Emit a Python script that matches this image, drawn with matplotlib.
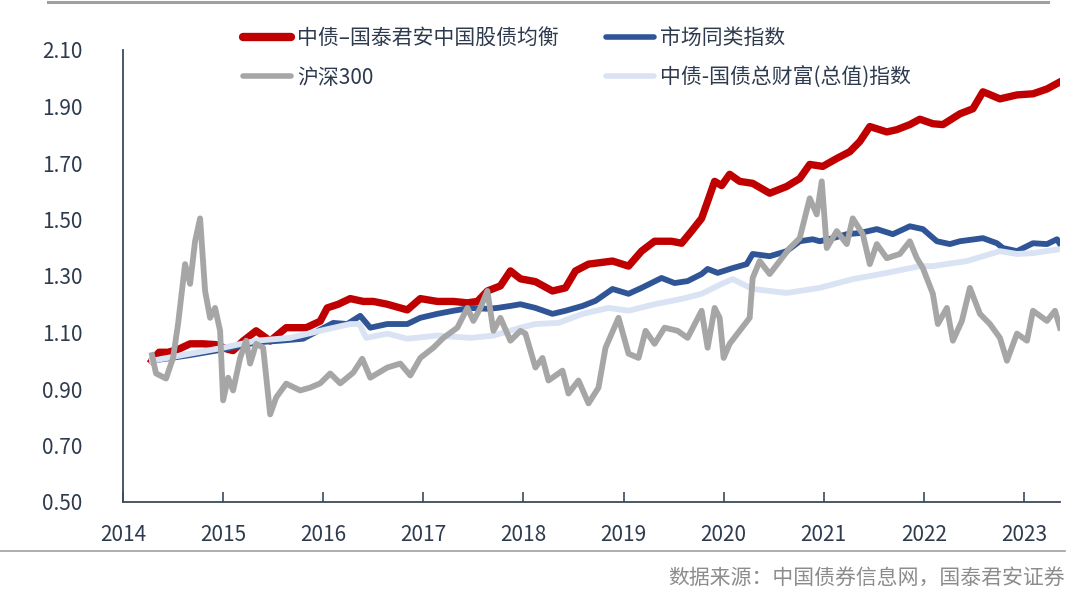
import matplotlib
matplotlib.use("Agg")
import matplotlib.pyplot as plt
from matplotlib.lines import Line2D

plt.rcParams['font.family'] = ['Noto Sans CJK SC', 'DejaVu Sans']

# ---- data (year as decimal, index value) ----
balanced_x = [2014.29, 2014.36, 2014.45, 2014.55, 2014.67, 2014.8, 2014.93, 2015.05, 2015.1, 2015.2,
              2015.33, 2015.47, 2015.63, 2015.83, 2015.97, 2016.04, 2016.15, 2016.27, 2016.4, 2016.5,
              2016.64, 2016.84, 2016.97, 2017.14, 2017.3, 2017.44, 2017.54, 2017.64, 2017.77, 2017.87,
              2017.97, 2018.12, 2018.29, 2018.42, 2018.52, 2018.65, 2018.89, 2019.05, 2019.18, 2019.31,
              2019.48, 2019.58, 2019.68, 2019.78, 2019.84, 2019.91, 2019.98, 2020.06, 2020.16, 2020.29,
              2020.46, 2020.63, 2020.76, 2020.86, 2020.99, 2021.13, 2021.26, 2021.36, 2021.46, 2021.63,
              2021.73, 2021.86, 2021.96, 2022.09, 2022.19, 2022.36, 2022.49, 2022.59, 2022.64, 2022.76,
              2022.93, 2023.09, 2023.23, 2023.36]
balanced_y = [1.00, 1.03, 1.03, 1.04, 1.06, 1.06, 1.057, 1.04, 1.036, 1.07,
              1.106, 1.07, 1.117, 1.117, 1.14, 1.187, 1.20, 1.22, 1.21, 1.21,
              1.20, 1.18, 1.22, 1.21, 1.21, 1.205, 1.21, 1.247, 1.265, 1.318,
              1.29, 1.28, 1.247, 1.258, 1.318, 1.342, 1.353, 1.335, 1.388, 1.423,
              1.423, 1.416, 1.459, 1.504, 1.564, 1.635, 1.62, 1.66, 1.635, 1.628,
              1.593, 1.617, 1.645, 1.695, 1.688, 1.716, 1.74, 1.776, 1.829, 1.81,
              1.818, 1.836, 1.855, 1.839, 1.836, 1.874, 1.892, 1.952, 1.945, 1.927,
              1.941, 1.945, 1.962, 1.987]

peer_x = [2014.29, 2014.67, 2015.0, 2015.33, 2015.57, 2015.8, 2015.97, 2016.1, 2016.24, 2016.37,
          2016.47, 2016.64, 2016.84, 2016.97, 2017.14, 2017.3, 2017.47, 2017.64, 2017.74, 2017.87,
          2017.97, 2018.12, 2018.29, 2018.42, 2018.59, 2018.72, 2018.89, 2019.05, 2019.18, 2019.38,
          2019.51, 2019.64, 2019.78, 2019.84, 2019.94, 2020.09, 2020.23, 2020.29, 2020.46, 2020.63,
          2020.76, 2020.89, 2020.96, 2021.09, 2021.23, 2021.36, 2021.53, 2021.69, 2021.86, 2021.99,
          2022.13, 2022.26, 2022.36, 2022.59, 2022.73, 2022.79, 2022.93, 2023.09, 2023.23, 2023.33,
          2023.36]
peer_y = [1.00, 1.02, 1.04, 1.065, 1.071, 1.078, 1.11, 1.134, 1.13, 1.159,
          1.117, 1.13, 1.13, 1.152, 1.166, 1.177, 1.187, 1.184, 1.187, 1.194,
          1.20, 1.187, 1.166, 1.177, 1.194, 1.212, 1.254, 1.237, 1.258, 1.293,
          1.275, 1.282, 1.307, 1.325, 1.311, 1.328, 1.342, 1.378, 1.37, 1.388,
          1.423, 1.43, 1.423, 1.434, 1.448, 1.452, 1.466, 1.448, 1.476, 1.466,
          1.423, 1.413, 1.423, 1.434, 1.416, 1.399, 1.388, 1.416, 1.413, 1.43,
          1.413]

bond_x = [2014.29, 2014.67, 2015.0, 2015.33, 2015.67, 2015.97, 2016.27, 2016.36, 2016.43, 2016.64,
          2016.84, 2017.14, 2017.47, 2017.7, 2017.97, 2018.12, 2018.35, 2018.59, 2018.85, 2019.05,
          2019.31, 2019.58, 2019.78, 2019.98, 2020.09, 2020.29, 2020.63, 2020.96, 2021.29, 2021.63,
          2021.96, 2022.09, 2022.43, 2022.76, 2022.93, 2023.09, 2023.36]
bond_y = [1.00, 1.025, 1.046, 1.071, 1.081, 1.106, 1.13, 1.13, 1.081, 1.096,
          1.078, 1.089, 1.081, 1.089, 1.117, 1.13, 1.134, 1.166, 1.187, 1.177,
          1.20, 1.219, 1.237, 1.272, 1.289, 1.254, 1.24, 1.258, 1.289, 1.311,
          1.335, 1.335, 1.353, 1.388, 1.378, 1.381, 1.395]

csi_x = [2014.29, 2014.33, 2014.43, 2014.5, 2014.55, 2014.62, 2014.67, 2014.72, 2014.77, 2014.82,
         2014.87, 2014.92, 2014.97, 2015.0, 2015.05, 2015.1, 2015.17, 2015.23, 2015.27, 2015.33,
         2015.4, 2015.47, 2015.53, 2015.63, 2015.77, 2015.87, 2015.97, 2016.07, 2016.17, 2016.3,
         2016.39, 2016.47, 2016.64, 2016.77, 2016.87, 2016.97, 2017.1, 2017.2, 2017.34, 2017.44,
         2017.5, 2017.57, 2017.64, 2017.7, 2017.77, 2017.87, 2017.97, 2018.02, 2018.12, 2018.19,
         2018.25, 2018.39, 2018.45, 2018.55, 2018.65, 2018.75, 2018.82, 2018.95, 2019.05, 2019.15,
         2019.22, 2019.31, 2019.41, 2019.54, 2019.64, 2019.78, 2019.84, 2019.91, 2019.96, 2020.0,
         2020.06, 2020.16, 2020.26, 2020.29, 2020.36, 2020.46, 2020.56, 2020.66, 2020.76, 2020.86,
         2020.93, 2020.98, 2021.03, 2021.13, 2021.23, 2021.29, 2021.39, 2021.46, 2021.53, 2021.63,
         2021.76, 2021.86, 2021.93, 2021.99, 2022.09, 2022.14, 2022.23, 2022.29, 2022.38, 2022.46,
         2022.56, 2022.66, 2022.76, 2022.83, 2022.93, 2023.03, 2023.09, 2023.23, 2023.31, 2023.36]
csi_y = [1.02, 0.955, 0.937, 1.01, 1.13, 1.342, 1.272, 1.423, 1.504, 1.247,
         1.152, 1.187, 1.106, 0.86, 0.94, 0.895, 1.01, 1.071, 0.99, 1.06,
         1.046, 0.81, 0.87, 0.919, 0.895, 0.905, 0.92, 0.955, 0.92, 0.958,
         1.007, 0.94, 0.976, 0.99, 0.948, 1.01, 1.046, 1.081, 1.117, 1.187,
         1.141, 1.187, 1.247, 1.106, 1.152, 1.071, 1.106, 1.096, 0.976, 1.01,
         0.93, 0.965, 0.884, 0.93, 0.849, 0.905, 1.046, 1.152, 1.025, 1.01,
         1.106, 1.06, 1.117, 1.106, 1.081, 1.177, 1.046, 1.187, 1.152, 1.01,
         1.06, 1.106, 1.152, 1.293, 1.353, 1.307, 1.353, 1.399, 1.434, 1.575,
         1.518, 1.635, 1.399, 1.459, 1.413, 1.504, 1.448, 1.342, 1.413, 1.363,
         1.378, 1.423, 1.363, 1.328, 1.237, 1.13, 1.187, 1.071, 1.141, 1.258,
         1.166, 1.13, 1.081, 1.00, 1.096, 1.071, 1.177, 1.141, 1.177, 1.117]

series_labels = ['中债–国泰君安中国股债均衡', '市场同类指数', '沪深300', '中债-国债总财富(总值)指数']
series_colors = ['#C00000', '#2F5597', '#A6A6A6', '#DAE3F3']

year_ticks = [2014, 2015, 2016, 2017, 2018, 2019, 2020, 2021, 2022, 2023]
y_ticks = [0.50, 0.70, 0.90, 1.10, 1.30, 1.50, 1.70, 1.90, 2.10]
source_text = '数据来源：中国债券信息网，国泰君安证券'

text_color = '#2E3B4E'
spine_color = '#3A4A5E'

fig = plt.figure(figsize=(10.8, 6.02), dpi=100)
ax = fig.add_axes([123/1080, 1 - 502/602, (1060 - 123)/1080, (502 - 50)/602])

ax.plot(balanced_x, balanced_y, color=series_colors[0], lw=5.3, zorder=2, solid_joinstyle='round')
ax.plot(peer_x, peer_y, color=series_colors[1], lw=4.2, zorder=3, solid_joinstyle='round')
ax.plot(bond_x, bond_y, color=series_colors[3], lw=4.2, zorder=4, solid_joinstyle='round')
ax.plot(csi_x, csi_y, color=series_colors[2], lw=4.2, zorder=5, solid_joinstyle='round')

ax.set_xlim(2014.0, 2023.36)
ax.set_ylim(0.5, 2.1)
ax.set_xticks(year_ticks)
ax.set_xticklabels([str(y) for y in year_ticks])
ax.set_yticks(y_ticks)
ax.set_yticklabels([f'{v:.2f}' for v in y_ticks])

for s in ['top', 'right']:
    ax.spines[s].set_visible(False)
for s in ['left', 'bottom']:
    ax.spines[s].set_color(spine_color)
    ax.spines[s].set_linewidth(1.3)

ax.tick_params(axis='x', direction='in', length=7, width=1.2, color=spine_color,
               labelsize=15, labelcolor=text_color, pad=15.5)
ax.tick_params(axis='y', length=0, labelsize=15, labelcolor=text_color, pad=29)

handles = [
    Line2D([], [], color=series_colors[0], lw=6, solid_capstyle='round'),
    Line2D([], [], color=series_colors[2], lw=4, solid_capstyle='round'),
    Line2D([], [], color=series_colors[1], lw=4, solid_capstyle='round'),
    Line2D([], [], color=series_colors[3], lw=4, solid_capstyle='round'),
]
labels = [series_labels[0], series_labels[2], series_labels[1], series_labels[3]]
leg = fig.legend(handles, labels, ncol=2, loc='upper left', bbox_to_anchor=(243/1080, 1 - 27/602),
                 frameon=False, fontsize=15, handlelength=2.3, handletextpad=0.3,
                 columnspacing=2.25, labelspacing=0.84, borderpad=0, borderaxespad=0)
for t in leg.get_texts():
    t.set_color(text_color)

# decorative rules
fig.add_artist(Line2D([48/1080, 1048/1080], [1 - 1.5/602, 1 - 1.5/602], color='#A0A0A0', lw=2.2))
fig.add_artist(Line2D([0/1080, 1065/1080], [1 - 551/602, 1 - 551/602], color='#A0A0A0', lw=1.2))

fig.text(1065/1080, 1 - 578/602, source_text, ha='right', va='center', fontsize=15, color='#8C8C8C')

fig.savefig('out.png', dpi=100)
